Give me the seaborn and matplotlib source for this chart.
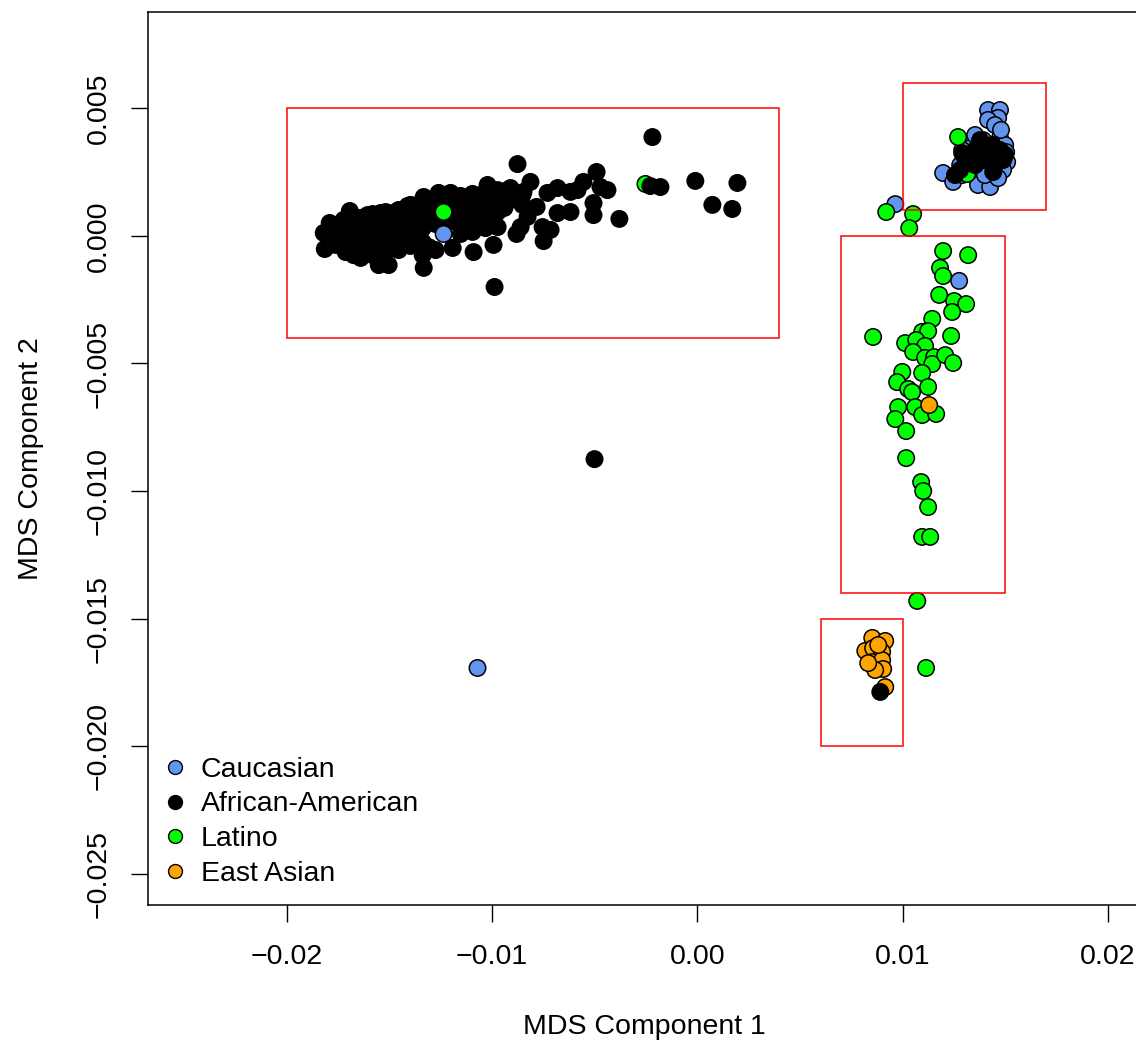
import numpy as np
import pandas as pd
import matplotlib
matplotlib.use("Agg")
import matplotlib.pyplot as plt
import seaborn as sns
from matplotlib.patches import Rectangle
from matplotlib.lines import Line2D

# MDS coordinates, in units of 1e-3
cau_x = [-16.64, -10.71, 9.64, 12.75,
         14.16, 14.74, 14.65, 14.16, 13.92, 14.74, 11.97, 12.46, 12.90, 13.67,
         14.26, 13.43, 14.99, 15.09, 13.28, 12.90, 14.50, 14.79, 14.89, 14.01,
         14.65, 12.80, 13.53, 15.04]
cau_y = [0.31, -16.94, 1.25, -1.76,
         4.94, 4.94, 4.63, 4.55, 3.76, 3.84, 2.47, 2.12, 2.39, 2.00,
         1.92, 3.06, 3.57, 2.90, 3.45, 3.37, 4.35, 4.16, 2.59, 2.39,
         2.27, 2.78, 3.96, 3.29]

lat_x = [-2.53, 12.70, 13.14, 9.20, 10.51, 10.32, 11.97, 13.19, 11.82,
         11.97, 11.78, 12.51, 13.09, 12.41, 11.44, 8.56, 10.95, 11.24, 12.36,
         10.12, 10.66, 11.09, 10.51, 11.09, 11.53, 11.44, 12.07, 12.46, 9.98,
         10.95, 9.73, 10.27, 10.46, 11.24, 9.78, 10.61, 10.95, 11.63, 9.64,
         10.17, 10.17, 10.90, 11.00, 11.24, 10.95, 11.34, 10.71, 11.14]
lat_y = [2.04, 3.88, 2.43, 0.94, 0.86, 0.31, -0.59, -0.75, -1.25,
         -1.57, -2.31, -2.55, -2.67, -2.98, -3.25, -3.96, -3.76, -3.73, -3.92,
         -4.20, -4.08, -4.31, -4.55, -4.78, -4.75, -5.02, -4.67, -4.98, -5.33,
         -5.37, -5.73, -6.00, -6.12, -5.92, -6.71, -6.71, -7.02, -6.98, -7.18,
         -7.65, -8.71, -9.65, -10.00, -10.63, -11.80, -11.80, -14.31, -16.94]

eas_x = [11.29, 8.52, 9.15, 8.18, 8.56, 9.00, 8.52, 9.00, 9.05, 8.66, 8.32, 9.15, 8.81]
eas_y = [-6.63, -15.76, -15.88, -16.27, -16.16, -16.31, -16.71, -16.63, -16.98,
         -17.02, -16.75, -17.69, -16.04]

afr_x = [-18.20, -18.15, -17.91, -16.93, -17.23, -16.74, -15.52, -15.04, -13.33, -10.90,
         -11.92, -16.06, -15.43, -14.70, -14.11, -13.33, -12.60, -12.02, -11.44, -10.90,
         -10.22, -9.93, -9.88, -8.76, -2.19, -0.10, 1.95, 0.73, 1.70, -2.29,
         -1.80, -3.80, -4.91, -5.55, -7.49, -7.15, -7.54, -8.81, -7.83, -6.81,
         -6.18, -5.06, -5.06, -8.13, -7.30, -6.81, -5.84, -4.72, -4.38, -9.25,
         -8.47, -9.10, -9.68, -8.27, -8.61, -9.73, -10.32, -6.18, -5.01, 8.91,
         -17.62, -17.62, -17.13, -17.13, -17.13, -16.40, -16.40, -16.40, -16.40, -15.82,
         -15.82, -15.82, -15.82, -15.18, -15.18, -15.18, -15.18, -14.55, -14.55, -14.55,
         -14.55, -13.97, -13.97, -13.97, -13.97, -13.38, -13.38, -13.38, -13.38, -13.38,
         -12.75, -12.75, -12.75, -12.75, -12.12, -12.12, -12.12, -11.53, -11.53, -11.53,
         -11.53, -10.95, -10.95, -10.95, -10.95, -10.32, -10.32, -10.32, -9.73, -9.73,
         -9.73, -9.10, -8.52, -8.52,
         -16.80, -16.80, -16.10, -16.10, -16.10, -15.50, -15.50, -15.50, -14.85, -14.85,
         -14.85, -14.25, -14.25, -14.25, -13.65, -13.65, -13.65, -13.05, -13.05, -13.05,
         -12.40, -11.80, -11.80, -11.20, -11.20, -11.20, -10.60, -10.60, -10.60, -10.00,
         -10.00, -9.40, -9.40,
         13.53, 13.92, 14.36, 14.74, 14.99, 14.01, 14.50, 13.53, 13.04, 12.80,
         14.89, 14.26, 12.55, 12.90, 13.77, 14.41]
afr_y = [0.12, -0.51, 0.51, 0.98, 0.63, -0.75, -1.14, -1.14, -1.25, -0.63,
         -0.47, 0.82, 0.90, 0.94, 1.18, 1.53, 1.69, 1.69, 1.53, 1.49,
         2.00, -0.35, -2.00, 2.82, 3.88, 2.16, 2.08, 1.22, 1.06, 1.96,
         1.92, 0.67, 2.51, 2.12, -0.20, 0.24, 0.35, 0.08, 1.14, 0.90,
         0.94, 0.82, 1.29, 2.12, 1.69, 1.88, 1.80, 1.92, 1.80, 1.80,
         1.73, 1.88, 1.73, 0.75, 0.35, 0.35, 0.31, 1.73, -8.75, -17.88,
         0.24, -0.35, 0.55, -0.08, -0.63, 0.71, 0.16, -0.39, -0.86, 0.86,
         0.31, -0.24, -0.75, 0.94, 0.43, -0.08, -0.63, 1.02, 0.55, 0.00,
         -0.55, 1.22, 0.71, 0.16, -0.39, 1.41, 0.86, 0.31, -0.24, -0.75,
         1.49, 1.02, 0.47, -0.55, 1.57, 1.10, 0.55, 1.57, 1.18, 0.63,
         0.08, 1.65, 1.22, 0.71, 0.16, 1.73, 1.29, 0.78, 1.80, 1.41,
         0.94, 1.41, 1.61, 1.22,
         0.40, -0.20, 0.45, -0.10, -0.60, 0.60, 0.05, -0.45, 0.75, 0.20,
         -0.35, 0.90, 0.35, -0.20, 1.10, 0.55, 0.00, 1.20, 0.65, -0.45,
         1.30, 1.35, 0.85, 1.40, 0.90, 0.40, 1.50, 1.00, 0.50, 1.55,
         1.10, 1.60, 1.10,
         3.37, 3.45, 3.57, 3.37, 3.18, 2.98, 2.78, 2.78, 3.06, 2.59,
         2.98, 3.18, 2.39, 3.25, 3.76, 2.51]

# the few samples that sit on top of the African-American cloud
top_x = [-12.36, -12.36]
top_y = [0.08, 0.94]
top_group = ["Caucasian", "Latino"]

groups = ["Caucasian", "African-American", "Latino", "East Asian"]
colors = ["#6495ED", "#000000", "#00FF00", "#FFA500"]

# red selection boxes
box_x0 = [-0.020, 0.010, 0.007, 0.006]
box_x1 = [0.004, 0.017, 0.015, 0.010]
box_y0 = [-0.004, 0.001, -0.014, -0.020]
box_y1 = [0.005, 0.006, 0.000, -0.015]

xticks = [-0.02, -0.01, 0.00, 0.01, 0.02]
xtick_labels = ["\u22120.02", "\u22120.01", "0.00", "0.01", "0.02"]
yticks = [0.005, 0.000, -0.005, -0.010, -0.015, -0.020, -0.025]
ytick_labels = ["0.005", "0.000", "\u22120.005", "\u22120.010", "\u22120.015", "\u22120.020", "\u22120.025"]

# draw order: Caucasian, Latino, East Asian, African-American, then the overlay points
df = pd.concat([
    pd.DataFrame({"mds1": cau_x, "mds2": cau_y, "group": "Caucasian"}),
    pd.DataFrame({"mds1": lat_x, "mds2": lat_y, "group": "Latino"}),
    pd.DataFrame({"mds1": eas_x, "mds2": eas_y, "group": "East Asian"}),
    pd.DataFrame({"mds1": afr_x, "mds2": afr_y, "group": "African-American"}),
    pd.DataFrame({"mds1": top_x, "mds2": top_y, "group": top_group}),
], ignore_index=True)
df["mds1"] = df["mds1"] / 1000
df["mds2"] = df["mds2"] / 1000

sns.set_style("white")
plt.rcParams["font.family"] = ["Liberation Sans", "DejaVu Sans"]
plt.rcParams["axes.unicode_minus"] = True
plt.rcParams["text.color"] = "black"
plt.rcParams["axes.labelcolor"] = "black"
plt.rcParams["xtick.color"] = "black"
plt.rcParams["ytick.color"] = "black"

W, H = 1136, 1045
fig = plt.figure(figsize=(W / 100, H / 100), dpi=100)
ax = fig.add_axes([148 / W, (H - 905) / H, (1140 - 148) / W, (905 - 12) / H])

palette = dict(zip(groups, colors))
sns.scatterplot(data=df, x="mds1", y="mds2", hue="group", palette=palette,
                s=140, edgecolor="black", linewidth=1.1, legend=False, ax=ax)

for x0, x1, y0, y1 in zip(box_x0, box_x1, box_y0, box_y1):
    ax.add_patch(Rectangle((x0, y0), x1 - x0, y1 - y0, fill=False,
                           edgecolor="red", linewidth=1.1, zorder=3))

ax.set_xlim(-0.02676, 0.02156)
ax.set_ylim(-0.026235, 0.008784)
ax.set_xticks(xticks)
ax.set_xticklabels(xtick_labels)
ax.set_yticks(yticks)
ax.set_yticklabels(ytick_labels)
ax.tick_params(axis="both", direction="out", length=12, width=1.0,
               labelsize=20.5, color="black", labelcolor="black", left=True, bottom=True)
ax.tick_params(axis="x", pad=16)
ax.tick_params(axis="y", pad=14, labelrotation=90)
plt.setp(ax.get_yticklabels(), va="center")

for sp in ax.spines.values():
    sp.set_visible(True)
    sp.set_color("black")
    sp.set_linewidth(1.1)

ax.set_xlabel("MDS Component 1", fontsize=20.5, color="black")
ax.set_ylabel("MDS Component 2", fontsize=20.5, color="black")
ax.xaxis.set_label_coords(0.5, -0.1366)
ax.yaxis.set_label_coords(-0.118, 0.5)
ax.xaxis.label.set_va("center")
ax.yaxis.label.set_va("center")

handles = [Line2D([], [], marker="o", linestyle="", markersize=10,
                  markerfacecolor=c, markeredgecolor="black", markeredgewidth=1.0)
           for c in colors]
leg = ax.legend(handles, groups, loc="upper left", bbox_to_anchor=(0.0131, 0.1658),
                frameon=False, fontsize=20.5, handlelength=1.0, handletextpad=0.4,
                labelspacing=0.3, borderpad=0, borderaxespad=0)
for t in leg.get_texts():
    t.set_color("black")

fig.savefig("out.png", dpi=100)
